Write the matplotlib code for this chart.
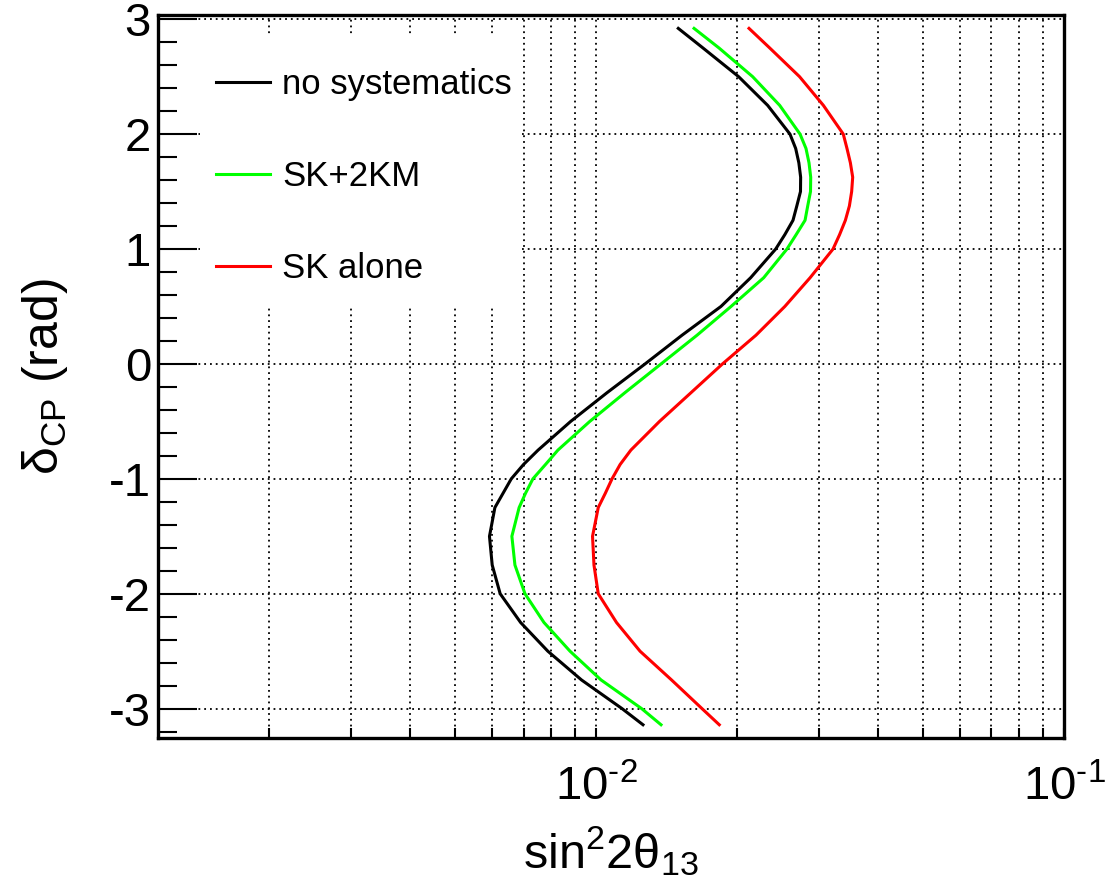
import math
import matplotlib
matplotlib.use("Agg")
import matplotlib.pyplot as plt
from matplotlib.patches import Rectangle
from matplotlib.ticker import FixedLocator, LogLocator, MultipleLocator, FuncFormatter, NullFormatter

plt.rcParams["font.family"] = ["Liberation Sans", "DejaVu Sans"]
plt.rcParams["mathtext.fontset"] = "custom"
plt.rcParams["mathtext.rm"] = "Liberation Sans"
plt.rcParams["mathtext.it"] = "Liberation Sans:italic"
plt.rcParams["mathtext.bf"] = "Liberation Sans:bold"
plt.rcParams["axes.unicode_minus"] = False

# delta_CP (rad) sampling and sin^2 2theta_13 sensitivity for each case
delta = [-3.14, -3.0, -2.75, -2.5, -2.25, -2.0, -1.75, -1.5, -1.25, -1.125, -1.0, -0.875,
         -0.75, -0.5, -0.25, 0.0, 0.25, 0.5, 0.75, 1.0, 1.125, 1.25, 1.375, 1.5, 1.625,
         1.75, 1.875, 2.0, 2.25, 2.5, 2.75, 2.92]

no_syst = [0.0126, 0.01137, 0.00931, 0.00789, 0.00690, 0.00624, 0.00600, 0.00592, 0.00608,
           0.00633, 0.00659, 0.00700, 0.00752, 0.00883, 0.01056, 0.01273, 0.01527, 0.01849,
           0.0214, 0.02421, 0.02532, 0.02636, 0.02686, 0.02735, 0.02737, 0.02713, 0.02671,
           0.02597, 0.02327, 0.02017, 0.01692, 0.01499]

sk_2km = [0.01377, 0.01252, 0.01025, 0.00880, 0.00774, 0.00705, 0.00671, 0.00661, 0.00685,
          0.00707, 0.00733, 0.00780, 0.00829, 0.00970, 0.01153, 0.01377, 0.01644, 0.01943,
          0.02282, 0.02559, 0.02677, 0.02797, 0.02834, 0.02873, 0.02876, 0.02852, 0.02810,
          0.02729, 0.02469, 0.02161, 0.01831, 0.01620]

sk_alone = [0.01834, 0.01685, 0.01450, 0.01242, 0.01106, 0.01011, 0.00990, 0.00983, 0.01011,
            0.01047, 0.01082, 0.01126, 0.01187, 0.01367, 0.01596, 0.01863, 0.02197, 0.02532,
            0.02867, 0.03210, 0.03315, 0.03411, 0.03479, 0.03518, 0.03536, 0.03496, 0.03438,
            0.03376, 0.03061, 0.02722, 0.02350, 0.02123]

labels = ["no systematics", "SK+2KM", "SK alone"]
colors = ["black", "#00ff00", "#ff0000"]

fig = plt.figure(figsize=(11.06, 8.84), dpi=100)
ax = fig.add_axes([0.1429, 0.1652, 0.8191, 0.8179])

for xs, lab, c in zip([no_syst, sk_2km, sk_alone], labels, colors):
    ax.plot(xs, delta, color=c, lw=2.2, label=lab, zorder=3)

ax.set_xscale("log")
ax.set_xlim(0.001159, 0.1)
ax.set_ylim(-3.255, 3.037)

# ticks
ax.xaxis.set_major_locator(FixedLocator([0.01, 0.1]))
ax.xaxis.set_minor_locator(LogLocator(base=10, subs=range(2, 10)))
ax.xaxis.set_minor_formatter(NullFormatter())
ax.xaxis.set_major_formatter(FuncFormatter(
    lambda v, p: "$\\mathregular{10^{\u2010%d}}$" % abs(round(math.log10(v)))))
ax.yaxis.set_major_locator(MultipleLocator(1))
ax.yaxis.set_minor_locator(MultipleLocator(0.2))

ax.tick_params(axis="y", which="major", direction="in", length=28, width=1.5,
               labelsize=34, pad=5, right=False)
ax.tick_params(axis="y", which="minor", direction="in", length=14, width=1.5, right=False)
ax.tick_params(axis="x", which="both", direction="in", length=7, width=1.5,
               labelsize=34, pad=20, top=False)

for s in ax.spines.values():
    s.set_linewidth(2.4)

ax.grid(True, axis="x", which="both", color="black", linestyle=(0, (1, 2.2)), lw=1.3)
ax.grid(True, axis="y", which="major", color="black", linestyle=(0, (1, 2.2)), lw=1.3)

ax.set_xlabel(r"sin$^{\mathregular{2}}$2θ$_{\mathregular{13}}$", fontsize=35, labelpad=10)
ax.set_ylabel(r"δ$_{\mathregular{CP}}$ (rad)", fontsize=36, labelpad=28)

# white legend box hiding the grid
ax.add_patch(Rectangle((0.0464, 0.596), 0.3532, 0.3736, transform=ax.transAxes,
                       facecolor="white", edgecolor="none", zorder=2))
ax.legend(loc="upper left", bbox_to_anchor=(0.064, 0.9267), frameon=False, fontsize=25,
          borderpad=0, borderaxespad=0, handlelength=1.56, handletextpad=0.35,
          labelspacing=1.70)

fig.savefig("out.png", dpi=100)
